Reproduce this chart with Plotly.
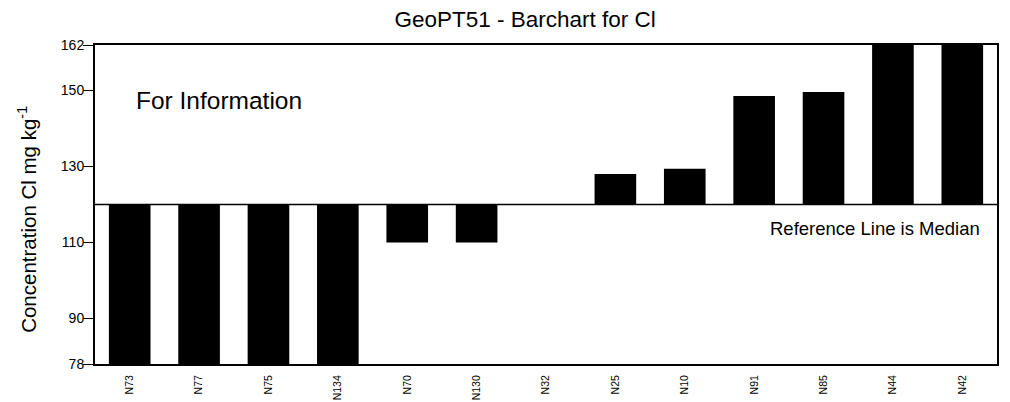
import plotly.graph_objects as go

# Laboratory codes and their reported Cl concentrations (mg/kg)
labs = ["N73", "N77", "N75", "N134", "N70", "N130", "N32",
        "N25", "N10", "N91", "N85", "N44", "N42"]
values = [70, 70, 70, 70, 110, 110, 120, 128, 129.4, 148.6, 149.6, 170, 170]
median = 120
y_ticks = [78, 90, 110, 130, 150, 162]
y_range = [78, 162]

font_family = "Liberation Sans, Arial, sans-serif"

fig = go.Figure()
fig.add_trace(go.Bar(
    x=labs,
    y=[v - median for v in values],
    base=median,
    marker=dict(color="black", line=dict(width=0)),
    width=0.6,
    showlegend=False,
))

# median reference line across the plot
fig.add_shape(type="line", xref="paper", yref="y", x0=0, x1=1, y0=median, y1=median,
              line=dict(color="black", width=1.5))

fig.add_annotation(text="For Information", xref="paper", yref="y", x=0.043, y=147.5,
                   xanchor="left", yanchor="middle", showarrow=False,
                   font=dict(size=24.5, color="black", family=font_family))
fig.add_annotation(text="Reference Line is Median", xref="paper", yref="y", x=0.983, y=113.8,
                   xanchor="right", yanchor="middle", showarrow=False,
                   font=dict(size=18.5, color="black", family=font_family))

# y-axis title
fig.add_annotation(text="Concentration Cl mg kg<sup>-1</sup>", xref="paper", yref="paper",
                   x=-0.0754, y=0.455, xanchor="center", yanchor="middle",
                   textangle=-90, showarrow=False,
                   font=dict(size=20.5, color="black", family=font_family))

fig.update_layout(
    width=1010, height=402,
    margin=dict(l=95, r=13, t=45, b=38, autoexpand=False),
    paper_bgcolor="white", plot_bgcolor="white",
    font=dict(family=font_family, color="black"),
    title=dict(text="GeoPT51 - Barchart for Cl", x=0.52, xanchor="center",
               y=0.953, yanchor="middle", font=dict(size=22.5, color="black")),
    bargap=0.4,
)
fig.update_xaxes(
    type="category", categoryorder="array", categoryarray=labs,
    showline=True, linecolor="black", linewidth=2, mirror=True,
    showgrid=False, ticks="", tickangle=-90, automargin=False,
    ticklabelstandoff=5,
    tickfont=dict(size=10.5, color="black"),
)
fig.update_yaxes(
    range=y_range, tickvals=y_ticks, ticktext=[str(t) for t in y_ticks],
    showline=True, linecolor="black", linewidth=2, mirror=True,
    showgrid=False, zeroline=False, ticks="outside", ticklen=10, tickwidth=1,
    tickcolor="black", ticklabelstandoff=-4, automargin=False,
    tickfont=dict(size=14, color="black"),
)

fig.write_html("out.html")
